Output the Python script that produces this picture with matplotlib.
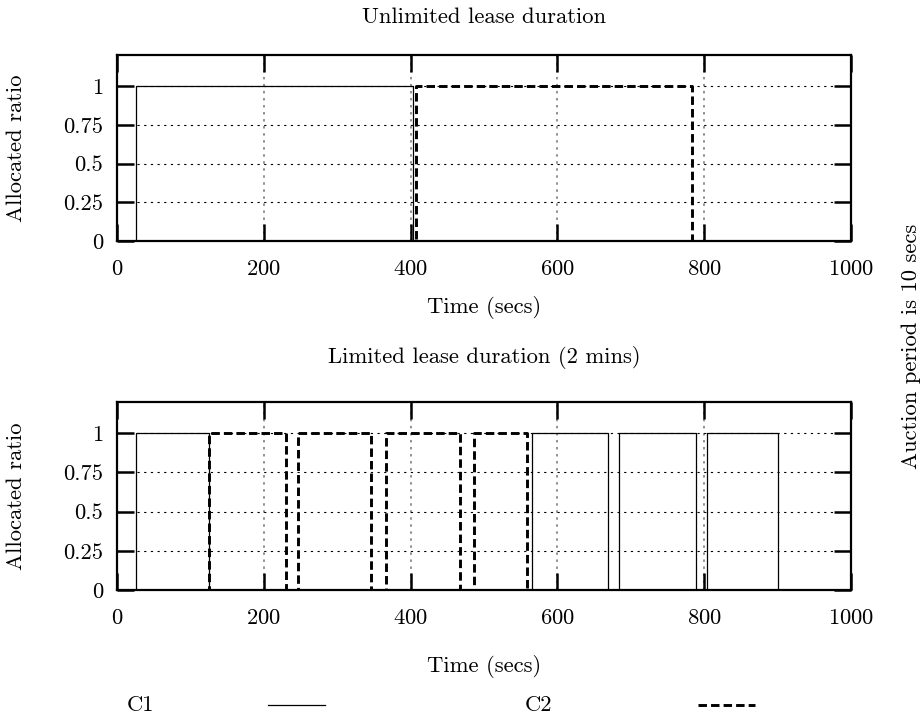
import matplotlib
matplotlib.use("Agg")
import matplotlib.pyplot as plt
from matplotlib.lines import Line2D

plt.rcParams['font.family'] = ['cmr10', 'DejaVu Serif']
plt.rcParams['axes.formatter.use_mathtext'] = True

# (start, end) of the periods where each consumer holds the resource
c1_unlimited = [(26, 403)]
c2_unlimited = [(407, 784)]
c1_limited = [(26, 125), (566, 669), (684, 789), (804, 901)]
c2_limited = [(126, 230), (246, 346), (366, 468), (486, 559)]

x_ticks = [0, 200, 400, 600, 800, 1000]
y_ticks = [0, 0.25, 0.5, 0.75, 1]
y_tick_labels = ['0', '0.25', '0.5', '0.75', '1']
t_end = 1000

titles = ['Unlimited lease duration', 'Limited lease duration (2 mins)']
FS = 16.3
DASH = (0, (2.9, 1.4))


def step_path(periods):
    """Turn on/off periods into a 0/1 step line."""
    xs, ys = [0], [0]
    for a, b in periods:
        xs += [a, a, b, b]
        ys += [0, 1, 1, 0]
    xs.append(t_end)
    ys.append(0)
    return xs, ys


def style_axes(ax):
    ax.set_xlim(0, 1000)
    ax.set_ylim(0, 1.2)
    ax.set_xticks(x_ticks)
    ax.set_yticks(y_ticks)
    ax.set_yticklabels(y_tick_labels)
    ax.tick_params(direction='in', length=12, width=1.8, top=True, right=True,
                   labelsize=FS)
    ax.tick_params(axis='x', pad=13)
    ax.tick_params(axis='y', pad=10)
    for s in ax.spines.values():
        s.set_linewidth(1.6)
    for x in x_ticks[1:-1]:
        ax.axvline(x, color='0.45', lw=1.1, linestyle=(0, (1.6, 3)), zorder=0)
    for y in y_ticks[1:]:
        ax.axhline(y, color='black', lw=0.8, linestyle=(0, (2, 4)), zorder=0)


fig = plt.figure(figsize=(9.21, 7.22), dpi=100)
ax_top = fig.add_axes([0.127, 0.6662, 0.797, 0.2576])
ax_bot = fig.add_axes([0.127, 0.1828, 0.797, 0.2608])

for ax, c1, c2 in [(ax_top, c1_unlimited, c2_unlimited),
                   (ax_bot, c1_limited, c2_limited)]:
    style_axes(ax)
    x1, y1 = step_path(c1)
    x2, y2 = step_path(c2)
    ax.plot(x1, y1, color='black', lw=0.9)
    ax.plot(x2, y2, color='black', lw=2.1, linestyle=DASH)

fig.text(0.5255, 1 - 17 / 722, titles[0], ha='center', va='center', fontsize=FS)
fig.text(0.5255, 1 - 357 / 722, titles[1], ha='center', va='center', fontsize=FS)
fig.text(0.5255, 1 - 307 / 722, 'Time (secs)', ha='center', va='center', fontsize=FS)
fig.text(0.5255, 1 - 667 / 722, 'Time (secs)', ha='center', va='center', fontsize=FS)
fig.text(16 / 921, 1 - 148 / 722, 'Allocated ratio', rotation=90,
         ha='center', va='center', fontsize=FS)
fig.text(16 / 921, 1 - 496 / 722, 'Allocated ratio', rotation=90,
         ha='center', va='center', fontsize=FS)
fig.text(911 / 921, 1 - 346 / 722, 'Auction period is 10 secs', rotation=90,
         ha='center', va='center', fontsize=FS)

# key below the plots
ly = 1 - 705 / 722
fig.text(140 / 921, ly, 'C1', ha='center', va='center', fontsize=FS)
fig.add_artist(Line2D([268 / 921, 325 / 921], [ly, ly], color='black', lw=0.9))
fig.text(538 / 921, ly, 'C2', ha='center', va='center', fontsize=FS)
fig.add_artist(Line2D([698 / 921, 755 / 921], [ly, ly], color='black', lw=2.1,
                      linestyle=DASH))

fig.savefig('out.png', dpi=100)
